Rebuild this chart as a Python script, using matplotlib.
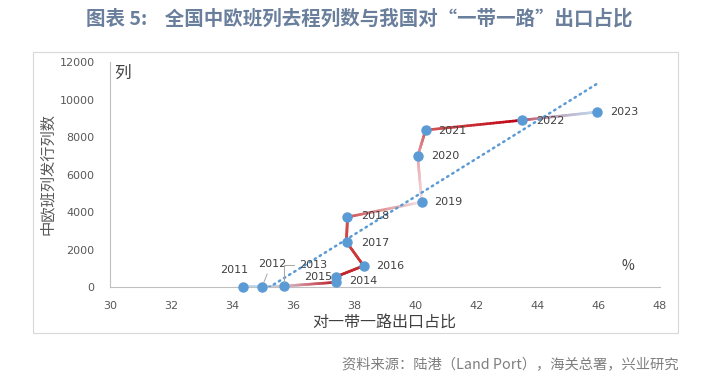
import numpy as np
import matplotlib
matplotlib.use("Agg")
import matplotlib.pyplot as plt
from matplotlib.collections import LineCollection
from matplotlib.colors import to_rgb
from matplotlib.patches import Rectangle

plt.rcParams['font.family'] = ['Noto Sans CJK SC', 'DejaVu Sans']

# share of exports to Belt & Road countries (%) vs outbound China-Europe trains
years = ["2011", "2012", "2013", "2014", "2015", "2016", "2017",
         "2018", "2019", "2020", "2021", "2022", "2023"]
export_share = [34.36, 34.98, 35.70, 37.38, 37.40, 38.30, 37.74,
                37.77, 40.20, 40.07, 40.33, 43.50, 45.93]
trains = [10, 20, 50, 250, 550, 1130, 2400,
          3730, 4530, 6980, 8370, 8900, 9330]

# colour of the gradient line at each point
point_colors = ["#bdd7ee", "#bdd7ee", "#d8c4d0", "#c0202a", "#c0202a", "#c83030", "#d04040",
                "#d05050", "#f4e2e6", "#e8a4ac", "#d05a5a", "#c00010", "#bdd7ee"]
# how fast each segment fades to the next colour (1 = linear)
seg_gamma = [1, 1, 1, 1, 1, 1, 1, 1, 1, 1, 1, 0.35]

# label offsets in pixels (dx, dy)
label_offsets = [(-9, 17), (10, 23), (29, 21), (28, 1), (-18, 0), (27, 0), (29, -1),
                 (28, 1), (27, 0), (28, 0), (27, -1), (28, -1), (28, 0)]

fig = plt.figure(figsize=(7.19, 3.81), dpi=100)
ax = fig.add_axes([110/719, 1-287/381, 550/719, 225/381])

# outer frame
fig.patches.append(Rectangle((33/719, 1-333/381), 645/719, 281/381, transform=fig.transFigure,
                             fill=False, ec="#d9d9d9", lw=0.8))

# gradient connecting line
segs, cols = [], []
n = 30
for i in range(len(years) - 1):
    c0, c1 = np.array(to_rgb(point_colors[i])), np.array(to_rgb(point_colors[i+1]))
    xs = np.linspace(export_share[i], export_share[i+1], n + 1)
    ys = np.linspace(trains[i], trains[i+1], n + 1)
    for k in range(n):
        t = ((k + 0.5) / n) ** seg_gamma[i]
        segs.append([(xs[k], ys[k]), (xs[k+1], ys[k+1])])
        cols.append(c0 * (1 - t) + c1 * t)
lc = LineCollection(segs, colors=cols, linewidths=1.9, capstyle="round", zorder=2)
ax.add_collection(lc)

# linear trend
coef = np.polyfit(export_share, trains, 1)
tx = np.array([min(export_share), max(export_share)])
ax.plot(tx, np.polyval(coef, tx), color="#5b9bd5", lw=1.8, ls=(0, (0.6, 1.8)),
        dash_capstyle="round", zorder=3)

ax.plot(export_share, trains, "o", color="#5b9bd5", ms=6.5, zorder=4, clip_on=False)

for i, yr in enumerate(years):
    kw = {}
    if yr == "2012":
        kw["arrowprops"] = dict(arrowstyle="-", color="#a6a6a6", lw=0.7,
                                relpos=(0.4, 0), shrinkA=2, shrinkB=3)
    if yr == "2013":
        kw["arrowprops"] = dict(arrowstyle="-", color="#a6a6a6", lw=0.7,
                                relpos=(0, 0.5), shrinkA=2, shrinkB=3,
                                connectionstyle="angle,angleA=180,angleB=90,rad=0")
    ax.annotate(yr, (export_share[i], trains[i]), xytext=label_offsets[i],
                textcoords="offset pixels", ha="center", va="center",
                fontsize=8, color="#404040", family="DejaVu Sans", zorder=5, **kw)

ax.set_xlim(30, 48)
ax.set_ylim(0, 12000)
ax.set_xticks(np.arange(30, 49, 2))
ax.set_yticks(np.arange(0, 12001, 2000))
ax.tick_params(length=0, labelsize=8, labelcolor="#595959")
ax.tick_params(axis="x", pad=10)
ax.tick_params(axis="y", pad=11)
for lab in ax.get_xticklabels() + ax.get_yticklabels():
    lab.set_family("DejaVu Sans")
for s in ["top", "right"]:
    ax.spines[s].set_visible(False)
for s in ["left", "bottom"]:
    ax.spines[s].set_color("#bfbfbf")
    ax.spines[s].set_linewidth(0.8)

fig.text(47/719, 1-174/381, "中欧班列发行列数", rotation=90, ha="center", va="center",
         fontsize=11, color="#595959")
fig.text(384/719, 1-322/381, "对一带一路出口占比", ha="center", va="center",
         fontsize=11.5, color="#404040")
fig.text(122/719, 1-73/381, "列", ha="center", va="center", fontsize=12, color="#404040")
fig.text(628/719, 1-266/381, "%", ha="center", va="center", fontsize=10, color="#404040")

fig.text(0.5, 1-19/381, "图表 5:    全国中欧班列去程列数与我国对“一带一路”出口占比",
         ha="center", va="center", fontsize=14, fontweight="bold", color="#6a7f9c")
fig.text(679/719, 1-365/381, "资料来源：陆港（Land Port），海关总署，兴业研究",
         ha="right", va="center", fontsize=10.3, color="#7f7f7f")

fig.savefig("out.png", dpi=100)
